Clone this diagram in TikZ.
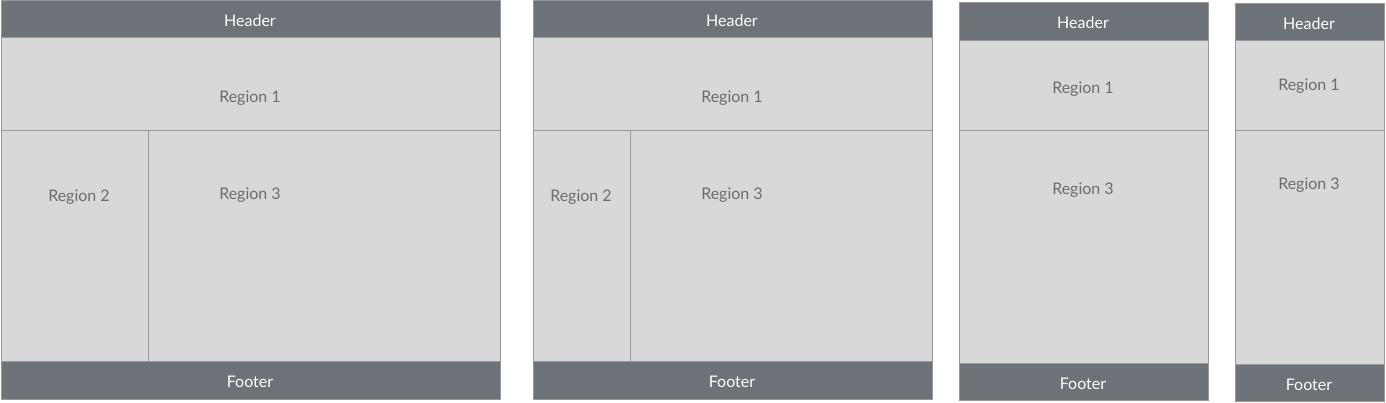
\documentclass[tikz,border=0pt]{standalone}
\usepackage{fontspec}
\setmainfont{Lato}
\definecolor{barcol}{HTML}{6D7178}
\definecolor{regcol}{HTML}{D8D8D8}
\definecolor{edgecol}{HTML}{999999}
\definecolor{txtcol}{HTML}{6C6C6C}
\begin{document}
\begin{tikzpicture}[x=0.75pt,y=-0.75pt,
  bar/.style={fill=barcol,draw=edgecol,line width=0.75pt},
  region/.style={fill=regcol,draw=edgecol,line width=0.75pt},
  bartext/.style={text=white,font=\fontsize{12}{14}\selectfont,inner sep=0pt},
  regtext/.style={text=txtcol,font=\fontsize{12}{14}\selectfont,inner sep=0pt}]
\useasboundingbox (0,0) rectangle (1386,403);
% Panel 1
\draw[region] (1,38) rectangle (500,131);
\draw[region] (1,131) rectangle (148,361);
\draw[region] (148,131) rectangle (500,361);
\draw[bar] (1,1) rectangle (500,38);
\draw[bar] (1,361) rectangle (500,399);
\node[bartext] (h1) at (250,21) {Header};
\node[regtext] (r11) at (250,98) {Region 1};
\node[regtext] (r12) at (79,197) {Region 2};
\node[regtext] (r13) at (250,195) {Region 3};
\node[bartext] (f1) at (250,382) {Footer};
% Panel 2
\draw[region] (533,38) rectangle (932,131);
\draw[region] (533,131) rectangle (630,361);
\draw[region] (630,131) rectangle (932,361);
\draw[bar] (533,1) rectangle (932,38);
\draw[bar] (533,361) rectangle (932,399);
\node[bartext] (h2) at (732,21) {Header};
\node[regtext] (r21) at (732,98) {Region 1};
\node[regtext] (r22) at (581,197) {Region 2};
\node[regtext] (r23) at (732,195) {Region 3};
\node[bartext] (f2) at (732,382) {Footer};
% Panel 3
\draw[region] (959,40.5) rectangle (1208,131);
\draw[region] (959,131) rectangle (1208,363);
\draw[bar] (959,3) rectangle (1208,40.5);
\draw[bar] (959,363) rectangle (1208,400.5);
\node[bartext] (h3) at (1083,23) {Header};
\node[regtext] (r31) at (1083,89) {Region 1};
\node[regtext] (r33) at (1083,190) {Region 3};
\node[bartext] (f3) at (1083,384) {Footer};
% Panel 4
\draw[region] (1235,41) rectangle (1384,131);
\draw[region] (1235,131) rectangle (1384,364);
\draw[bar] (1235,4) rectangle (1384,41);
\draw[bar] (1235,364) rectangle (1384,401.5);
\node[bartext] (h4) at (1309,24) {Header};
\node[regtext] (r41) at (1309,86) {Region 1};
\node[regtext] (r43) at (1309,185) {Region 3};
\node[bartext] (f4) at (1309,385) {Footer};
\end{tikzpicture}
\end{document}
